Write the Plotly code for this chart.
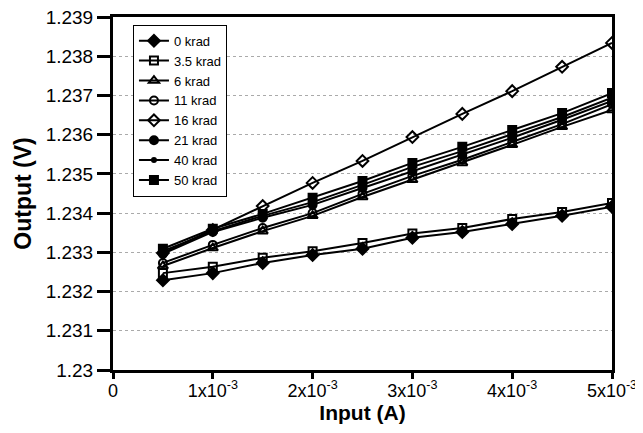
import plotly.graph_objects as go

x_input = [0.0005, 0.0010, 0.0015, 0.0020, 0.0025, 0.0030, 0.0035, 0.0040, 0.0045, 0.0050]

y_0krad = [1.23229, 1.23247, 1.23273, 1.23293, 1.23309, 1.23337, 1.23352, 1.23372, 1.23393, 1.23416]
y_3_5krad = [1.23247, 1.23263, 1.23286, 1.23303, 1.23324, 1.23348, 1.23362, 1.23385, 1.23403, 1.23426]
y_6krad = [1.23265, 1.23311, 1.23354, 1.23393, 1.23441, 1.23485, 1.23528, 1.23574, 1.23620, 1.23663]
y_11krad = [1.23273, 1.23319, 1.23362, 1.23400, 1.23449, 1.23495, 1.23536, 1.23581, 1.23627, 1.23678]
y_16krad = [1.23298, 1.23357, 1.23418, 1.23477, 1.23533, 1.23594, 1.23653, 1.23711, 1.23773, 1.23834]
y_21krad = [1.23296, 1.23352, 1.23388, 1.23421, 1.23464, 1.23507, 1.23548, 1.23592, 1.23638, 1.23686]
y_40krad = [1.23303, 1.23354, 1.23393, 1.23428, 1.23472, 1.23518, 1.23558, 1.23602, 1.23645, 1.23694]
y_50krad = [1.23309, 1.23360, 1.23398, 1.23439, 1.23482, 1.23528, 1.23569, 1.23612, 1.23655, 1.23706]

series_names = ["0 krad", "3.5 krad", "6 krad", "11 krad", "16 krad", "21 krad", "40 krad", "50 krad"]

x_tickvals = [0, 0.001, 0.002, 0.003, 0.004, 0.005]
x_ticktext = ["0", "1x10<sup>-3</sup>", "2x10<sup>-3</sup>", "3x10<sup>-3</sup>", "4x10<sup>-3</sup>", "5x10<sup>-3</sup>"]
y_tickvals = [1.230, 1.231, 1.232, 1.233, 1.234, 1.235, 1.236, 1.237, 1.238, 1.239]
y_ticktext = ["1.23", "1.231", "1.232", "1.233", "1.234", "1.235", "1.236", "1.237", "1.238", "1.239"]

styles = [
    ("diamond", 9),
    ("square-open", 8),
    ("triangle-up-open", 9),
    ("circle-open", 8),
    ("diamond-open", 9),
    ("circle", 8),
    ("circle", 4),
    ("square", 8),
]

all_y = [y_0krad, y_3_5krad, y_6krad, y_11krad, y_16krad, y_21krad, y_40krad, y_50krad]

fig = go.Figure()
for name, ys, (sym, size) in zip(series_names, all_y, styles):
    fig.add_trace(go.Scatter(
        x=x_input, y=ys, name=name, mode="lines+markers",
        line=dict(color="black", width=2),
        marker=dict(symbol=sym, size=size, color="black",
                    line=dict(color="black", width=2)),
    ))

font_family = "Liberation Sans, Arial, Helvetica, sans-serif"

# page body has an 8px default margin; figure size and margins compensate for it
fig.update_layout(
    width=635, height=425,
    margin=dict(l=105, r=31, t=9, b=63, autoexpand=False),
    paper_bgcolor="white", plot_bgcolor="white",
    font=dict(family=font_family, size=18, color="black"),
    showlegend=True,
    legend=dict(
        x=0.04, y=0.978, xanchor="left", yanchor="top",
        bordercolor="black", borderwidth=1, bgcolor="white",
        font=dict(size=13, color="black"),
        tracegroupgap=0, itemwidth=30,
    ),
    xaxis=dict(
        range=[0, 0.005], tickvals=x_tickvals, ticktext=x_ticktext,
        showgrid=False, zeroline=False, automargin=False,
        showline=True, linecolor="black", linewidth=3, mirror=True,
        ticks="outside", ticklen=6, tickwidth=3, tickcolor="black",
        tickfont=dict(size=18), ticklabeloverflow="allow",
        ticklabelstandoff=-4,
        title=dict(text="<b>Input (A)</b>", font=dict(size=21), standoff=0),
    ),
    yaxis=dict(
        range=[1.230, 1.239], tickvals=y_tickvals, ticktext=y_ticktext,
        showgrid=True, gridcolor="#aaaaaa", griddash="dot", gridwidth=1,
        zeroline=False, automargin=False,
        showline=True, linecolor="black", linewidth=3, mirror=True,
        ticks="outside", ticklen=13, tickwidth=3, tickcolor="black",
        tickfont=dict(size=19), ticklabeloverflow="allow",
        title=dict(text="<b>Output (V)</b>", font=dict(size=23), standoff=8),
    ),
)

fig.write_html("out.html")
